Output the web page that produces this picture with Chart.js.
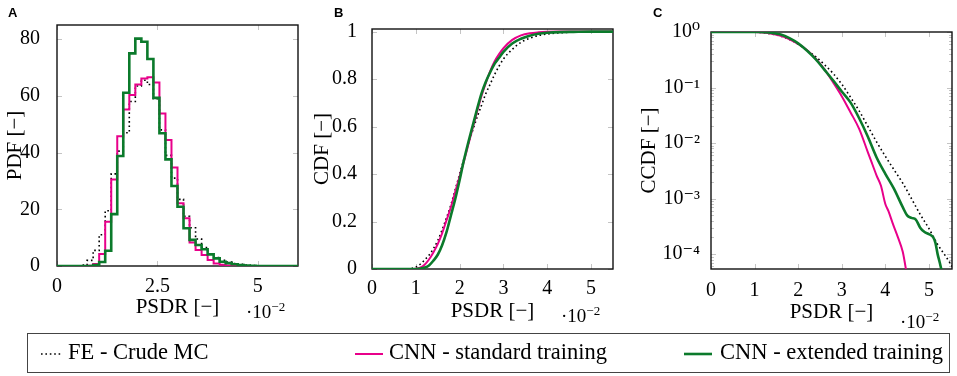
<!DOCTYPE html>
<html>
<head>
<meta charset="utf-8">
<script src="https://cdn.jsdelivr.net/npm/chart.js@4.4.1/dist/chart.umd.min.js"></script>
<style>
    body { margin: 0; width: 957px; height: 376px; background: #fff; position: relative; overflow: hidden; font-family: 'Liberation Serif', 'DejaVu Serif', 'Times New Roman', Times, serif; }
    canvas { position: absolute; top: 0; }
    .tag { position: absolute; top: 5px; font: bold 13px 'Liberation Sans', Arial, sans-serif; }
    .mul { position: absolute; font-size: 19px; line-height: 1; white-space: nowrap; }
    .mul sup { font-size: 13px; vertical-align: 7px; line-height: 0; }
    #legend { position: absolute; left: 27px; top: 333px; width: 921px; height: 38px; border: 1px solid #444; }
    #legend span { position: absolute; top: 7px; font-size: 22.5px; line-height: 1; white-space: nowrap; }
    #legend svg { position: absolute; top: 18px; }
</style>
</head>
<body>
<canvas id="chartA" width="310" height="330" style="left:0px"></canvas>
<canvas id="chartB" width="320" height="330" style="left:310px"></canvas>
<canvas id="chartC" width="327" height="330" style="left:630px"></canvas>

<div class="tag" style="left:8px">A</div>
<div class="tag" style="left:334px">B</div>
<div class="tag" style="left:653px">C</div>

<div class="mul" style="left:246px; top:302px">·10<sup>−2</sup></div>
<div class="mul" style="left:561px; top:306px">·10<sup>−2</sup></div>
<div class="mul" style="left:900px; top:312px">·10<sup>−2</sup></div>

<div id="legend">
    <svg style="left:12px" width="24" height="4"><line x1="1" y1="2" x2="23" y2="2" stroke="#000" stroke-width="1.6" stroke-dasharray="1.6 2.8"/></svg>
    <span style="left:40px">FE - Crude MC</span>
    <svg style="left:327px" width="28" height="4"><line x1="0" y1="2" x2="28" y2="2" stroke="#e8008a" stroke-width="2"/></svg>
    <span style="left:361px">CNN - standard training</span>
    <svg style="left:656px" width="28" height="4"><line x1="0" y1="2" x2="28" y2="2" stroke="#0b7a2b" stroke-width="2.6"/></svg>
    <span style="left:692px">CNN - extended training</span>
</div>

<script>
// ---- panel A : PDF histograms (x in 1e-2, left bin edges) ----
const binEdges = [0, 0.60, 0.75, 0.90, 1.05, 1.20, 1.35, 1.50, 1.65, 1.80, 1.95, 2.10, 2.25, 2.40, 2.55, 2.70,
    2.85, 3.00, 3.15, 3.30, 3.45, 3.60, 3.75, 3.90, 4.05, 4.20, 4.35, 4.50, 4.65, 4.80, 4.95, 5.10, 6.00];
const pdfFE = [0, 0.3, 2, 5.5, 11, 19.5, 32.5, 40.5, 47, 58, 63.5, 65.5, 64, 59, 48, 39, 31, 23.5, 17.5, 13.5,
    9.5, 6.5, 4.3, 3, 2, 1.4, 0.9, 0.6, 0.35, 0.2, 0.1, 0.05, 0];
const pdfStd = [0, 0, 0.1, 0.7, 4.2, 15.6, 30.5, 45.8, 55.2, 60.3, 64, 66.1, 66.6, 64.7, 53.8, 44.4, 34.7, 22.1,
    16.8, 8.3, 5.6, 3.9, 2.1, 0.9, 0.4, 0.2, 0.1, 0, 0, 0, 0, 0, 0];
const pdfExt = [0, 0, 0, 0.3, 1.4, 5.4, 18.3, 38.8, 61.1, 75, 80.2, 79.1, 73, 59.3, 46.8, 37.6, 28.2, 20.9, 13.3,
    9.2, 7.4, 5.9, 4.1, 2.7, 1.5, 1.0, 0.6, 0.3, 0.15, 0.1, 0, 0, 0];

// ---- panel B : CDF ----
const cdfX = [0, 0.8, 0.9, 1.0, 1.1, 1.2, 1.3, 1.4, 1.5, 1.6, 1.7, 1.8, 1.9, 2.0, 2.1, 2.2, 2.3, 2.4, 2.5, 2.6,
    2.7, 2.8, 2.9, 3.0, 3.2, 3.4, 3.6, 3.8, 4.0, 4.3, 4.6, 5.0, 5.5];
const cdfFE = [0, 0, 0.002, 0.008, 0.02, 0.038, 0.058, 0.085, 0.12, 0.165, 0.215, 0.27, 0.335, 0.40, 0.465, 0.53,
    0.585, 0.64, 0.69, 0.74, 0.78, 0.82, 0.855, 0.885, 0.925, 0.955, 0.972, 0.984, 0.99, 0.995, 0.998, 0.999, 1];
const cdfStd = [0, 0, 0, 0.001, 0.006, 0.018, 0.04, 0.07, 0.105, 0.15, 0.205, 0.26, 0.325, 0.39, 0.455, 0.525,
    0.595, 0.665, 0.73, 0.785, 0.835, 0.875, 0.905, 0.93, 0.965, 0.984, 0.993, 0.997, 0.999, 1, 1, 1, 1];
const cdfExt = [0, 0, 0, 0, 0.002, 0.006, 0.015, 0.035, 0.06, 0.10, 0.155, 0.225, 0.295, 0.375, 0.46, 0.535,
    0.605, 0.675, 0.74, 0.79, 0.83, 0.865, 0.89, 0.915, 0.95, 0.97, 0.983, 0.991, 0.995, 0.998, 0.999, 1, 1];

// ---- panel C : CCDF (log) ----
const ccdfFEx = [0, 0.9, 1.0, 1.2, 1.4, 1.6, 1.8, 2.0, 2.2, 2.4, 2.6, 2.8, 3.0, 3.2, 3.4, 3.6, 3.8, 4.0, 4.2, 4.4,
    4.6, 4.8, 5.0, 5.2, 5.4, 5.6];
const ccdfFE = [1, 0.999, 0.996, 0.97, 0.92, 0.84, 0.73, 0.60, 0.47, 0.36, 0.26, 0.18, 0.115, 0.067, 0.038, 0.02,
    0.0105, 0.0058, 0.0033, 0.0019, 0.001, 0.00052, 0.00029, 0.00015, 0.000088, 0.00005];
const ccdfStdx = [0, 1.0, 1.2, 1.4, 1.6, 1.8, 2.0, 2.2, 2.4, 2.6, 2.8, 3.0, 3.2, 3.4, 3.6, 3.7, 3.8, 3.9, 4.0, 4.07,
    4.18, 4.29, 4.4, 4.5];
const ccdfStd = [1, 0.999, 0.982, 0.93, 0.85, 0.74, 0.61, 0.475, 0.335, 0.215, 0.125, 0.07, 0.036, 0.018, 0.0068,
    0.0042, 0.0026, 0.0017, 0.0008, 0.0006, 0.00034, 0.0002, 0.00011, 0.00004];
const ccdfExtx = [0, 1.1, 1.2, 1.4, 1.6, 1.8, 2.0, 2.2, 2.4, 2.6, 2.8, 3.0, 3.2, 3.4, 3.6, 3.8, 4.0, 4.2, 4.4, 4.5,
    4.6, 4.7, 4.8, 4.9, 5.0, 5.1, 5.15, 5.2, 5.25, 5.32];
const ccdfExt = [1, 0.998, 0.994, 0.965, 0.90, 0.775, 0.625, 0.465, 0.325, 0.21, 0.135, 0.085, 0.054, 0.028, 0.013,
    0.0055, 0.0028, 0.0015, 0.0007, 0.0005, 0.00045, 0.00042, 0.0003, 0.00025, 0.00023, 0.0002, 0.00016, 0.0001,
    0.00007, 0.00004];

// ticks
const xTicksA = [0, 2.5, 5];
const yTicksA = [0, 20, 40, 60, 80];
const xTicksBC = [0, 1, 2, 3, 4, 5];
const yTicksB = [0, 0.2, 0.4, 0.6, 0.8, 1];
const yTicksC = [1, 0.1, 0.01, 0.001, 0.0001];
const yLabelsC = ['10⁰', '10⁻¹', '10⁻²', '10⁻³', '10⁻⁴'];

const FE_COLOR = '#000000';
const STD_COLOR = '#e8008a';
const EXT_COLOR = '#0b7a2b';

Chart.defaults.font.family = "'Liberation Serif', 'DejaVu Serif', 'Times New Roman', Times, serif";
Chart.defaults.font.size = 20;
Chart.defaults.color = '#000';

function pts(xs, ys) {
    return xs.map((x, i) => ({ x: x, y: ys[i] }));
}

// light inner ticks on all four sides + black frame
const frame = {
    id: 'frame',
    beforeDatasetsDraw(chart, args, opts) {
        const { ctx, chartArea: a, scales } = chart;
        ctx.save();
        ctx.strokeStyle = '#c4c4c4';
        ctx.lineWidth = 1;
        ctx.beginPath();
        scales.x.ticks.forEach(t => {
            const px = Math.round(scales.x.getPixelForValue(t.value)) + 0.5;
            ctx.moveTo(px, a.bottom); ctx.lineTo(px, a.bottom - 5);
            ctx.moveTo(px, a.top); ctx.lineTo(px, a.top + 5);
        });
        scales.y.ticks.forEach(t => {
            const py = Math.round(scales.y.getPixelForValue(t.value)) + 0.5;
            ctx.moveTo(a.left, py); ctx.lineTo(a.left + 5, py);
            ctx.moveTo(a.right, py); ctx.lineTo(a.right - 5, py);
        });
        (opts.minor || []).forEach(v => {
            const py = Math.round(scales.y.getPixelForValue(v)) + 0.5;
            if (py < a.top || py > a.bottom) return;
            ctx.moveTo(a.left, py); ctx.lineTo(a.left + 3, py);
            ctx.moveTo(a.right, py); ctx.lineTo(a.right - 3, py);
        });
        ctx.stroke();
        ctx.strokeStyle = '#111';
        ctx.lineWidth = 1.4;
        ctx.strokeRect(a.left, a.top, a.width, a.height);
        ctx.restore();
    }
};

function series(label, data, color, width, dashed, order, extra) {
    return Object.assign({
        label: label,
        data: data,
        borderColor: color,
        borderWidth: width,
        borderDash: dashed ? [1.6, 2.8] : [],
        pointRadius: 0,
        fill: false,
        order: order
    }, extra || {});
}

function makeChart(id, datasets, cfg) {
    return new Chart(document.getElementById(id), {
        type: 'line',
        data: { datasets: datasets },
        plugins: [frame],
        options: {
            responsive: false,
            animation: false,
            devicePixelRatio: 1,
            layout: { padding: cfg.padding },
            plugins: { legend: { display: false }, tooltip: { enabled: false }, frame: { minor: cfg.minor } },
            scales: {
                x: {
                    type: 'linear', min: cfg.xMin, max: cfg.xMax,
                    grid: { display: false }, border: { display: false },
                    afterBuildTicks: s => { s.ticks = cfg.xTicks.map(v => ({ value: v })); },
                    afterFit: s => { s.height = cfg.xHeight; },
                    ticks: { padding: cfg.xPad, maxRotation: 0, callback: v => String(v) },
                    title: { display: true, text: 'PSDR [−]', font: { size: 21 }, padding: { top: 0, bottom: cfg.xTitlePad } }
                },
                y: {
                    type: cfg.yType, min: cfg.yMin, max: cfg.yMax,
                    grid: { display: false }, border: { display: false },
                    afterBuildTicks: s => { s.ticks = cfg.yTicks.map(v => ({ value: v })); },
                    afterFit: s => { s.width = cfg.yWidth; },
                    ticks: { padding: cfg.yPad, callback: cfg.yLabel },
                    title: { display: true, text: cfg.yTitle, font: { size: 21 }, padding: { top: cfg.yTitlePad, bottom: 0 } }
                }
            }
        }
    });
}

const stepA = { stepped: 'before' };
makeChart('chartA', [
    series('FE - Crude MC', pts(binEdges, pdfFE), FE_COLOR, 1.6, true, 3, stepA),
    series('CNN - standard training', pts(binEdges, pdfStd), STD_COLOR, 2, false, 2, stepA),
    series('CNN - extended training', pts(binEdges, pdfExt), EXT_COLOR, 2.6, false, 1, stepA)
], {
    padding: { left: 0, top: 25, right: 12, bottom: 0 },
    xMin: 0, xMax: 6, xTicks: xTicksA, xHeight: 64, xPad: 1, xTitlePad: 10,
    yType: 'linear', yMin: 0, yMax: 85, yTicks: yTicksA, yWidth: 57, yPad: 9,
    yLabel: v => String(v), yTitle: 'PDF [−]', yTitlePad: 3
});

const smooth = { cubicInterpolationMode: 'monotone' };
makeChart('chartB', [
    series('FE - Crude MC', pts(cdfX, cdfFE), FE_COLOR, 1.6, true, 3, smooth),
    series('CNN - standard training', pts(cdfX, cdfStd), STD_COLOR, 2, false, 2, smooth),
    series('CNN - extended training', pts(cdfX, cdfExt), EXT_COLOR, 2.6, false, 1, smooth)
], {
    padding: { left: 0, top: 29, right: 17, bottom: 0 },
    xMin: 0, xMax: 5.5, xTicks: xTicksBC, xHeight: 61, xPad: 0, xTitlePad: 6,
    yType: 'linear', yMin: 0, yMax: 1.011, yTicks: yTicksB, yWidth: 62, yPad: 7,
    yLabel: v => String(v), yTitle: 'CDF [−]', yTitlePad: 0
});

const minorC = [];
[1e-5, 1e-4, 1e-3, 1e-2, 1e-1].forEach(d => { for (let m = 2; m <= 9; m++) minorC.push(m * d); });
makeChart('chartC', [
    series('FE - Crude MC', pts(ccdfFEx, ccdfFE), FE_COLOR, 1.6, true, 3, smooth),
    series('CNN - standard training', pts(ccdfStdx, ccdfStd), STD_COLOR, 2, false, 2, smooth),
    series('CNN - extended training', pts(ccdfExtx, ccdfExt), EXT_COLOR, 2.6, false, 1, smooth)
], {
    padding: { left: 0, top: 32, right: 5, bottom: 0 },
    xMin: 0, xMax: 5.53, xTicks: xTicksBC, xHeight: 61, xPad: 2, xTitlePad: 5,
    yType: 'logarithmic', yMin: 5.4e-5, yMax: 1, yTicks: yTicksC, yWidth: 81, yPad: 3,
    yLabel: (v, i) => yLabelsC[i], yTitle: 'CCDF [−]', yTitlePad: 7, minor: minorC
});
</script>
</body>
</html>
